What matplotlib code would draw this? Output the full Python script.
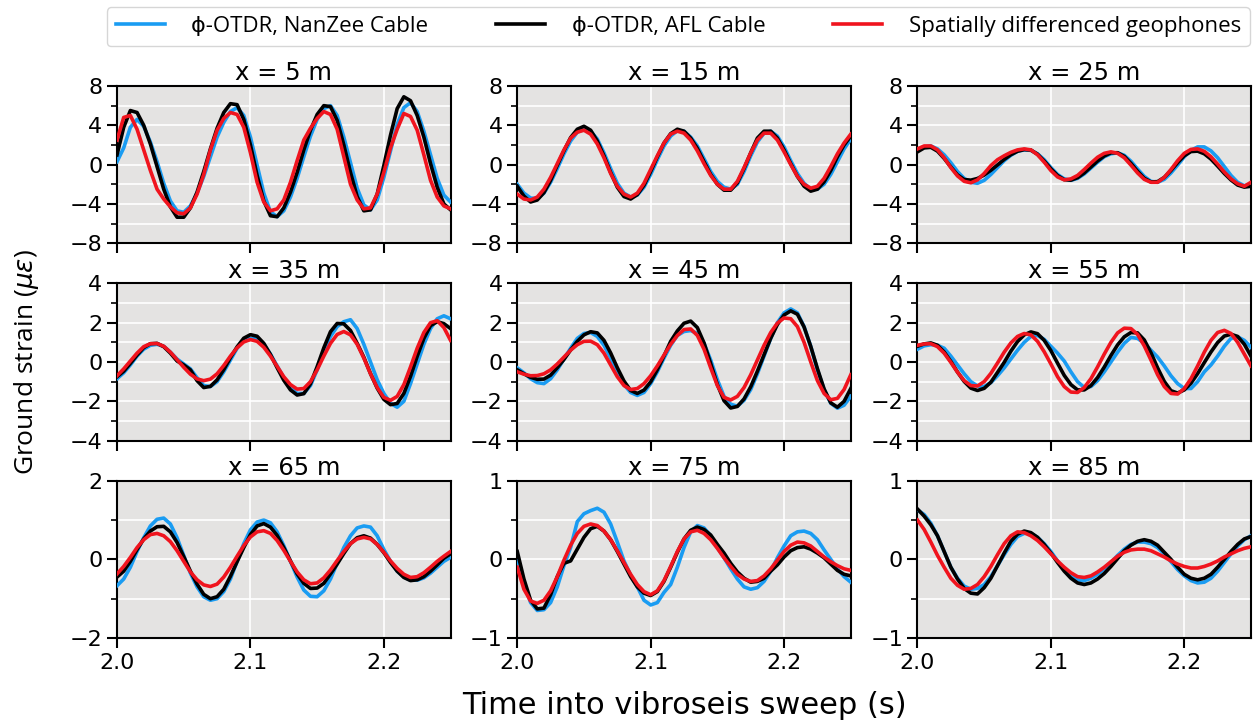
import numpy as np
import matplotlib
matplotlib.use("Agg")
import matplotlib.pyplot as plt
from matplotlib.ticker import MultipleLocator

# sample times (s), 5 ms spacing
t = np.linspace(2.0, 2.25, 51)

offsets = [5, 15, 25, 35, 45, 55, 65, 75, 85]

# ground strain (micro-strain) per offset
nanzee_5 = [0.3, 1.7, 3.8, 4.6, 3.9, 2.3, 0.3, -1.9, -3.7, -4.7, -4.85, -4.2, -2.9, -1.2, 0.8, 2.8, 4.3, 5.4, 5.8, 5.0, 2.8, -0.05, -2.9, -4.8, -5.3, -4.7, -3.3, -1.4, 0.8, 2.9, 4.6, 5.7, 6.0, 5.0, 2.8, 0.2, -2.4, -4.1, -4.6, -3.6, -1.3, 1.4, 4.1, 5.8, 6.3, 5.4, 3.4, 1.0, -1.4, -3.1, -3.8]
afl_5 = [1.0, 3.8, 5.5, 5.3, 4.0, 2.1, -0.2, -2.5, -4.3, -5.35, -5.35, -4.4, -2.8, -0.7, 1.6, 3.7, 5.3, 6.2, 6.1, 4.6, 2.0, -1.1, -3.7, -5.2, -5.3, -4.4, -2.8, -0.8, 1.5, 3.5, 5.1, 6.0, 5.9, 4.5, 2.0, -0.8, -3.25, -4.7, -4.6, -3.0, -0.1, 3.0, 5.7, 6.9, 6.5, 5.0, 2.8, 0.1, -2.3, -4.0, -4.6]
geo_5 = [2.5, 4.8, 5.0, 3.6, 1.5, -0.6, -2.5, -3.5, -4.3, -4.9, -5.0, -4.4, -3.0, -1.0, 1.5, 3.5, 4.7, 5.3, 5.1, 3.8, 1.2, -1.8, -3.8, -4.7, -4.5, -3.6, -1.8, 0.4, 2.5, 3.7, 4.7, 5.4, 5.1, 3.6, 0.8, -2.0, -3.6, -4.5, -4.4, -3.0, -0.8, 1.7, 3.6, 5.2, 4.9, 3.5, 1.0, -1.6, -3.3, -4.2, -4.5]

nanzee_15 = [-2.0, -2.9, -3.4, -3.45, -2.9, -1.8, -0.4, 1.1, 2.4, 3.3, 3.6, 3.4, 2.6, 1.2, -0.4, -1.9, -2.9, -3.3, -3.1, -2.3, -1.0, 0.5, 1.9, 2.9, 3.45, 3.4, 2.8, 1.9, 0.6, -0.7, -1.7, -2.3, -2.5, -2.0, -0.7, 0.9, 2.3, 3.2, 3.4, 2.9, 1.8, 0.4, -0.9, -1.9, -2.5, -2.5, -2.0, -1.0, 0.3, 1.6, 2.6]
afl_15 = [-2.2, -3.2, -3.8, -3.6, -2.85, -1.6, -0.07, 1.4, 2.75, 3.6, 3.9, 3.5, 2.4, 0.9, -0.8, -2.3, -3.25, -3.5, -3.05, -2.1, -0.7, 0.8, 2.2, 3.15, 3.6, 3.4, 2.7, 1.65, 0.3, -1.0, -2.0, -2.6, -2.6, -1.85, -0.4, 1.2, 2.7, 3.4, 3.4, 2.7, 1.5, 0.1, -1.2, -2.2, -2.7, -2.5, -1.75, -0.6, 0.8, 2.0, 2.9]
geo_15 = [-3.0, -3.5, -3.6, -3.3, -2.5, -1.3, 0.1, 1.5, 2.7, 3.3, 3.5, 3.1, 2.1, 0.7, -0.9, -2.2, -3.0, -3.3, -2.9, -1.9, -0.5, 0.9, 2.2, 3.1, 3.4, 3.2, 2.5, 1.4, 0.1, -1.1, -2.0, -2.5, -2.5, -1.7, -0.3, 1.2, 2.5, 3.2, 3.2, 2.5, 1.3, 0.0, -1.2, -2.0, -2.4, -2.2, -1.4, -0.2, 1.1, 2.2, 3.1]

nanzee_25 = [1.5, 1.8, 1.9, 1.6, 1.0, 0.2, -0.7, -1.4, -1.8, -1.9, -1.6, -1.0, -0.3, 0.4, 0.95, 1.35, 1.5, 1.45, 1.1, 0.5, -0.3, -1.0, -1.45, -1.6, -1.4, -0.95, -0.35, 0.25, 0.8, 1.1, 1.2, 0.95, 0.35, -0.45, -1.2, -1.7, -1.8, -1.5, -0.85, -0.05, 0.8, 1.45, 1.8, 1.8, 1.4, 0.7, -0.2, -1.1, -1.8, -2.15, -2.0]
afl_25 = [1.3, 1.7, 1.76, 1.37, 0.63, -0.24, -1.04, -1.52, -1.58, -1.41, -1.06, -0.58, -0.03, 0.53, 1.01, 1.36, 1.53, 1.48, 1.06, 0.37, -0.42, -1.11, -1.53, -1.58, -1.33, -0.85, -0.24, 0.37, 0.88, 1.2, 1.21, 0.84, 0.13, -0.68, -1.39, -1.76, -1.73, -1.3, -0.6, 0.2, 0.9, 1.33, 1.37, 1.1, 0.56, -0.15, -0.9, -1.56, -2.08, -2.29, -2.2]
geo_25 = [1.6, 1.9, 1.9, 1.5, 0.7, -0.3, -1.15, -1.7, -1.85, -1.55, -0.9, -0.1, 0.5, 0.9, 1.25, 1.5, 1.6, 1.5, 1.0, 0.25, -0.6, -1.25, -1.55, -1.45, -1.1, -0.5, 0.15, 0.75, 1.15, 1.3, 1.15, 0.7, -0.05, -0.85, -1.5, -1.8, -1.8, -1.3, -0.5, 0.4, 1.15, 1.55, 1.6, 1.35, 0.8, 0.05, -0.75, -1.45, -1.95, -2.2, -1.8]

nanzee_35 = [-0.85, -0.55, -0.15, 0.3, 0.65, 0.85, 0.9, 0.8, 0.5, 0.15, -0.1, -0.35, -0.8, -1.2, -1.25, -1.0, -0.5, 0.1, 0.7, 1.1, 1.2, 1.2, 0.9, 0.4, -0.2, -0.8, -1.3, -1.6, -1.6, -1.2, -0.4, 0.5, 1.3, 1.8, 2.05, 2.15, 1.7, 0.9, 0.0, -0.9, -1.6, -2.1, -2.3, -2.0, -1.1, -0.1, 0.9, 1.7, 2.2, 2.35, 2.2]
afl_35 = [-0.75, -0.47, -0.07, 0.35, 0.73, 0.93, 0.95, 0.78, 0.45, 0.05, -0.15, -0.4, -0.95, -1.3, -1.24, -0.91, -0.39, 0.22, 0.77, 1.21, 1.39, 1.31, 0.95, 0.38, -0.29, -0.93, -1.42, -1.68, -1.61, -1.11, -0.24, 0.72, 1.54, 1.96, 1.94, 1.6, 0.95, 0.24, -0.59, -1.33, -1.9, -2.17, -2.11, -1.6, -0.73, 0.29, 1.2, 1.85, 2.05, 1.95, 1.7]
geo_35 = [-0.7, -0.35, 0.05, 0.45, 0.78, 0.93, 0.94, 0.8, 0.5, 0.12, -0.27, -0.62, -0.86, -0.95, -0.87, -0.6, -0.18, 0.3, 0.72, 1.02, 1.14, 1.05, 0.75, 0.3, -0.22, -0.75, -1.15, -1.38, -1.35, -1.0, -0.4, 0.3, 0.95, 1.4, 1.55, 1.38, 0.9, 0.2, -0.6, -1.3, -1.8, -1.95, -1.75, -1.15, -0.25, 0.7, 1.5, 2.0, 2.1, 1.75, 1.1]

nanzee_45 = [-0.3, -0.55, -0.85, -1.05, -1.1, -0.85, -0.4, 0.15, 0.7, 1.2, 1.45, 1.5, 1.3, 0.85, 0.2, -0.5, -1.15, -1.55, -1.7, -1.55, -1.1, -0.5, 0.2, 0.85, 1.35, 1.55, 1.6, 1.45, 0.95, 0.1, -0.9, -1.75, -2.15, -2.25, -1.95, -1.4, -0.6, 0.3, 1.2, 2.0, 2.5, 2.7, 2.5, 1.8, 0.8, -0.4, -1.4, -2.1, -2.35, -2.2, -1.75]
afl_45 = [-0.4, -0.6, -0.78, -0.88, -0.87, -0.67, -0.29, 0.13, 0.61, 1.05, 1.38, 1.54, 1.48, 1.1, 0.46, -0.29, -0.97, -1.45, -1.6, -1.43, -1.01, -0.39, 0.31, 1.05, 1.58, 1.97, 2.08, 1.75, 0.97, -0.08, -1.15, -1.97, -2.34, -2.26, -1.88, -1.26, -0.47, 0.37, 1.21, 1.91, 2.39, 2.6, 2.43, 1.78, 0.79, -0.34, -1.37, -2.08, -2.3, -2.0, -1.35]
geo_45 = [-0.5, -0.62, -0.7, -0.69, -0.6, -0.4, -0.1, 0.25, 0.6, 0.88, 1.05, 1.06, 0.88, 0.45, -0.15, -0.75, -1.2, -1.4, -1.35, -1.1, -0.7, -0.2, 0.35, 0.9, 1.35, 1.65, 1.68, 1.35, 0.65, -0.3, -1.2, -1.8, -1.93, -1.75, -1.3, -0.65, 0.1, 0.85, 1.5, 1.98, 2.24, 2.2, 1.8, 1.0, 0.0, -0.95, -1.6, -1.92, -1.85, -1.4, -0.65]

nanzee_55 = [0.65, 0.82, 0.88, 0.85, 0.7, 0.3, -0.15, -0.6, -1.0, -1.22, -1.25, -1.05, -0.7, -0.3, 0.15, 0.6, 1.0, 1.3, 1.35, 1.15, 0.8, 0.45, 0.05, -0.5, -1.0, -1.3, -1.25, -0.95, -0.5, 0.0, 0.5, 0.95, 1.25, 1.2, 0.95, 0.6, 0.25, -0.2, -0.7, -1.1, -1.35, -1.35, -1.0, -0.5, -0.15, 0.3, 0.8, 1.2, 1.28, 1.1, 0.75]
afl_55 = [0.8, 0.92, 0.97, 0.85, 0.51, 0.03, -0.51, -0.99, -1.33, -1.45, -1.34, -1.03, -0.53, -0.02, 0.55, 1.04, 1.38, 1.53, 1.44, 1.1, 0.58, -0.06, -0.68, -1.15, -1.42, -1.42, -1.2, -0.79, -0.26, 0.33, 0.87, 1.28, 1.5, 1.48, 1.12, 0.47, -0.3, -0.99, -1.46, -1.58, -1.42, -1.08, -0.59, -0.03, 0.51, 0.99, 1.32, 1.41, 1.3, 0.9, 0.3]
geo_55 = [0.85, 0.92, 0.93, 0.78, 0.45, -0.02, -0.52, -0.95, -1.2, -1.22, -1.0, -0.58, -0.05, 0.5, 0.97, 1.3, 1.45, 1.38, 1.05, 0.52, -0.1, -0.75, -1.25, -1.53, -1.55, -1.3, -0.85, -0.25, 0.4, 1.0, 1.48, 1.72, 1.7, 1.4, 0.82, 0.1, -0.65, -1.25, -1.6, -1.63, -1.35, -0.85, -0.2, 0.5, 1.1, 1.5, 1.61, 1.45, 1.0, 0.4, -0.2]

nanzee_65 = [-0.67, -0.5, -0.2, 0.2, 0.55, 0.85, 1.02, 1.05, 0.9, 0.55, 0.1, -0.35, -0.7, -0.95, -1.04, -1.0, -0.82, -0.5, -0.05, 0.4, 0.75, 0.95, 1.0, 0.93, 0.7, 0.35, -0.05, -0.45, -0.78, -0.94, -0.95, -0.8, -0.5, -0.1, 0.3, 0.6, 0.8, 0.85, 0.82, 0.6, 0.25, -0.05, -0.3, -0.45, -0.53, -0.53, -0.47, -0.35, -0.2, -0.05, 0.05]
afl_65 = [-0.45, -0.3, -0.05, 0.25, 0.52, 0.72, 0.83, 0.84, 0.7, 0.43, 0.07, -0.3, -0.63, -0.89, -1.0, -0.95, -0.76, -0.43, -0.06, 0.3, 0.63, 0.85, 0.91, 0.82, 0.61, 0.3, -0.04, -0.37, -0.61, -0.74, -0.73, -0.61, -0.37, -0.12, 0.15, 0.4, 0.55, 0.6, 0.54, 0.38, 0.17, -0.08, -0.3, -0.46, -0.54, -0.52, -0.44, -0.3, -0.14, 0.03, 0.14]
geo_65 = [-0.37, -0.18, 0.05, 0.3, 0.5, 0.63, 0.66, 0.6, 0.45, 0.22, -0.05, -0.32, -0.52, -0.65, -0.69, -0.63, -0.45, -0.2, 0.08, 0.35, 0.57, 0.7, 0.73, 0.66, 0.48, 0.23, -0.05, -0.32, -0.52, -0.62, -0.6, -0.47, -0.27, -0.03, 0.2, 0.4, 0.52, 0.56, 0.52, 0.38, 0.18, -0.04, -0.23, -0.38, -0.46, -0.44, -0.34, -0.2, -0.05, 0.08, 0.2]

nanzee_75 = [-0.02, -0.3, -0.55, -0.65, -0.64, -0.55, -0.35, -0.08, 0.15, 0.48, 0.58, 0.62, 0.65, 0.6, 0.45, 0.22, -0.02, -0.2, -0.35, -0.52, -0.58, -0.55, -0.42, -0.32, -0.1, 0.15, 0.35, 0.43, 0.4, 0.3, 0.15, 0.02, -0.12, -0.25, -0.35, -0.38, -0.36, -0.28, -0.15, 0.02, 0.17, 0.3, 0.35, 0.36, 0.33, 0.25, 0.12, 0.0, -0.12, -0.22, -0.29]
afl_75 = [0.1, -0.25, -0.52, -0.63, -0.62, -0.45, -0.22, -0.05, -0.02, 0.13, 0.28, 0.39, 0.42, 0.36, 0.25, 0.1, -0.06, -0.22, -0.35, -0.43, -0.46, -0.41, -0.28, -0.1, 0.09, 0.26, 0.37, 0.41, 0.38, 0.31, 0.19, 0.08, -0.05, -0.16, -0.24, -0.29, -0.28, -0.24, -0.15, -0.07, 0.03, 0.11, 0.15, 0.16, 0.13, 0.08, 0.02, -0.06, -0.14, -0.19, -0.21]
geo_75 = [-0.1, -0.38, -0.53, -0.56, -0.52, -0.4, -0.22, -0.01, 0.18, 0.33, 0.42, 0.45, 0.43, 0.36, 0.25, 0.11, -0.04, -0.19, -0.32, -0.41, -0.45, -0.4, -0.27, -0.09, 0.1, 0.26, 0.35, 0.37, 0.33, 0.25, 0.14, 0.02, -0.09, -0.19, -0.25, -0.28, -0.27, -0.21, -0.12, -0.01, 0.1, 0.18, 0.22, 0.21, 0.17, 0.1, 0.03, -0.03, -0.08, -0.12, -0.14]

nanzee_85 = [0.63, 0.57, 0.46, 0.3, 0.1, -0.1, -0.24, -0.34, -0.38, -0.37, -0.32, -0.22, -0.08, 0.06, 0.19, 0.29, 0.33, 0.33, 0.28, 0.2, 0.1, -0.02, -0.13, -0.21, -0.26, -0.27, -0.24, -0.19, -0.12, -0.04, 0.05, 0.13, 0.19, 0.22, 0.22, 0.2, 0.15, 0.07, -0.03, -0.13, -0.21, -0.27, -0.3, -0.29, -0.24, -0.15, -0.04, 0.07, 0.17, 0.25, 0.3]
afl_85 = [0.64, 0.55, 0.44, 0.3, 0.1, -0.1, -0.25, -0.37, -0.43, -0.44, -0.36, -0.24, -0.08, 0.08, 0.23, 0.32, 0.36, 0.34, 0.28, 0.19, 0.08, -0.04, -0.15, -0.24, -0.3, -0.32, -0.3, -0.25, -0.18, -0.09, 0.01, 0.11, 0.18, 0.23, 0.25, 0.23, 0.18, 0.09, 0.0, -0.1, -0.19, -0.24, -0.26, -0.24, -0.19, -0.1, 0.0, 0.1, 0.19, 0.26, 0.29]
geo_85 = [0.5, 0.38, 0.22, 0.05, -0.1, -0.24, -0.33, -0.38, -0.37, -0.32, -0.22, -0.09, 0.06, 0.2, 0.3, 0.35, 0.34, 0.3, 0.24, 0.16, 0.07, -0.02, -0.1, -0.17, -0.22, -0.23, -0.21, -0.16, -0.1, -0.03, 0.04, 0.09, 0.12, 0.13, 0.13, 0.11, 0.07, 0.03, -0.02, -0.06, -0.09, -0.11, -0.11, -0.09, -0.06, -0.02, 0.03, 0.07, 0.11, 0.14, 0.16]

nanzee = [nanzee_5, nanzee_15, nanzee_25, nanzee_35, nanzee_45, nanzee_55, nanzee_65, nanzee_75, nanzee_85]
afl = [afl_5, afl_15, afl_25, afl_35, afl_45, afl_55, afl_65, afl_75, afl_85]
geo = [geo_5, geo_15, geo_25, geo_35, geo_45, geo_55, geo_65, geo_75, geo_85]

# y limits and tick spacing (major, minor) per panel
ylims = [8, 8, 8, 4, 4, 4, 2, 1, 1]
yticks = [(4, 2), (4, 2), (4, 2), (2, 1), (2, 1), (2, 1), (2, 1), (1, 0.5), (1, 0.5)]

BLUE = '#1a9cf2'
RED = '#f0141e'
OPEN = ['Open Sans', 'DejaVu Sans']

fig = plt.figure(figsize=(12.53, 7.25), dpi=100)
axes = fig.subplots(3, 3)
fig.subplots_adjust(left=0.0934, right=0.9984, bottom=0.12, top=0.8814,
                    wspace=0.2, hspace=0.255)

for k, ax in enumerate(axes.flat):
    ax.set_facecolor('#e4e3e2')
    ax.plot(t, nanzee[k], color=BLUE, lw=2.6, label='ϕ-OTDR, NanZee Cable', zorder=3)
    ax.plot(t, afl[k], color='black', lw=2.6, label='ϕ-OTDR, AFL Cable', zorder=4)
    ax.plot(t, geo[k], color=RED, lw=2.6, label='Spatially differenced geophones', zorder=5)

    ax.set_xlim(2.0, 2.25)
    ax.set_ylim(-ylims[k], ylims[k])
    ax.xaxis.set_major_locator(MultipleLocator(0.1))
    ax.yaxis.set_major_locator(MultipleLocator(yticks[k][0]))
    ax.yaxis.set_minor_locator(MultipleLocator(yticks[k][1]))
    ax.grid(True, which='major', color='white', lw=1.2, zorder=0)
    ax.grid(True, which='minor', axis='y', color='white', lw=1.2, zorder=0)
    ax.set_axisbelow(True)

    ax.tick_params(which='major', length=7, width=1.5, labelsize=16, color='black')
    ax.tick_params(which='minor', length=4, width=1.2)
    for sp in ax.spines.values():
        sp.set_linewidth(1.5)

    if k < 6:
        ax.tick_params(labelbottom=False)
    else:
        ax.set_xticks([2.0, 2.1, 2.2])
        ax.set_xticklabels(['2.0', '2.1', '2.2'])

    ax.set_title(f'x = {offsets[k]} m', fontsize=17.5, pad=4)

handles, labels = axes[0, 0].get_legend_handles_labels()
fig.legend(handles, labels, loc='lower left', ncol=3, mode='expand',
           bbox_to_anchor=(0.0854, 0.9366, 0.912, 0.058), borderaxespad=0,
           prop={'family': OPEN, 'size': 16}, handlelength=2.2,
           handletextpad=1.2, frameon=True, edgecolor='0.8', fancybox=True)

fig.text(0.546, 0.027, 'Time into vibroseis sweep (s)', ha='center', va='center', fontsize=22)
fig.text(0.021, 0.50, r'Ground strain ($\mu\varepsilon$)', rotation=90, ha='center',
         va='center', fontsize=19, family=OPEN)

fig.savefig('out.png', dpi=100)
